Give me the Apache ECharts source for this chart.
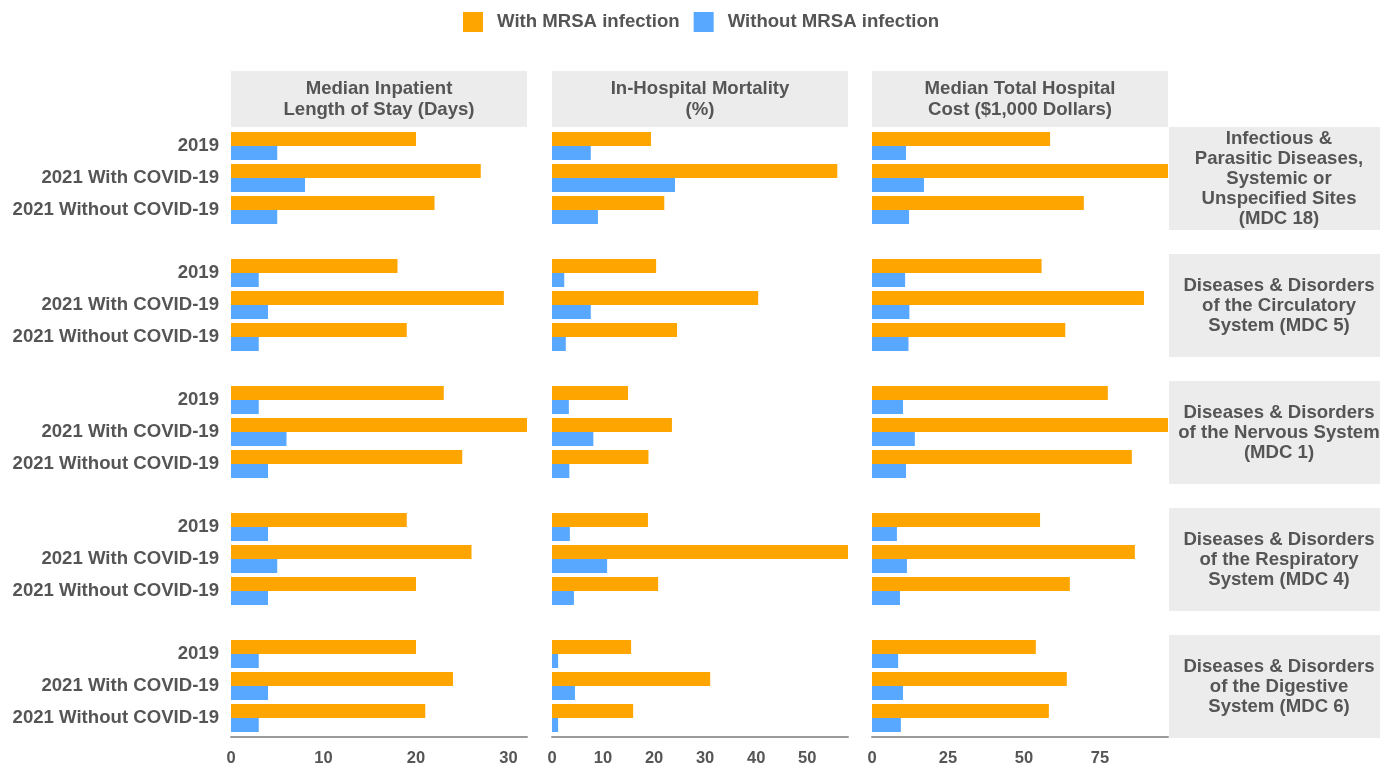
<!DOCTYPE html>
<html>
<head>
<meta charset="utf-8">
<script src="https://cdn.jsdelivr.net/npm/echarts@6/dist/echarts.min.js"></script>
<style>
  html, body { margin: 0; padding: 0; background: #fff; }
  #chart { width: 1380px; height: 767px; }
</style>
</head>
<body>
<div id="chart"></div>
<script>
// categories
const years = ['2019', '2021 With COVID-19', '2021 Without COVID-19']
const metrics = ['Median Inpatient\nLength of Stay (Days)', 'In-Hospital Mortality\n(%)', 'Median Total Hospital\nCost ($1,000 Dollars)']
const groups = [
  'Infectious &\nParasitic Diseases,\nSystemic or\nUnspecified Sites\n(MDC 18)',
  'Diseases & Disorders\nof the Circulatory\nSystem (MDC 5)',
  'Diseases & Disorders\nof the Nervous System\n(MDC 1)',
  'Diseases & Disorders\nof the Respiratory\nSystem (MDC 4)',
  'Diseases & Disorders\nof the Digestive\nSystem (MDC 6)'
]

// values per group (rows) -> per year
const losWith = [[20, 27, 22], [18, 29.5, 19], [23, 32, 25], [19, 26, 20], [20, 24, 21]]
const losWithout = [[5, 8, 5], [3, 4, 3], [3, 6, 4], [4, 5, 4], [3, 4, 3]]
const mortWith = [[19.4, 55.9, 22.0], [20.4, 40.4, 24.5], [14.9, 23.5, 18.9], [18.8, 58, 20.8], [15.5, 31, 15.9]]
const mortWithout = [[7.6, 24.1, 9.0], [2.4, 7.6, 2.7], [3.3, 8.1, 3.4], [3.5, 10.8, 4.3], [1.2, 4.5, 1.2]]
const costWith = [[58.6, 97.4, 69.7], [55.8, 89.5, 63.6], [77.6, 97.4, 85.5], [55.3, 86.5, 65.1], [53.9, 64.1, 58.2]]
const costWithout = [[11.2, 17.1, 12.2], [10.9, 12.3, 12.0], [10.2, 14.1, 11.2], [8.2, 11.5, 9.2], [8.6, 10.2, 9.5]]

// axis settings per metric column
const axisMax = [32, 58, 97.4]
const axisStep = [10, 10, 25]

const withData = [losWith, mortWith, costWith]
const withoutData = [losWithout, mortWithout, costWithout]

const ORANGE = '#FFA500'
const BLUE = '#58A8FF'
const TXT = '#555555'
const STRIP = '#ECECEC'
const FONT = '"Liberation Sans", Arial, sans-serif'
const FS = 18.6

const colLeft = [231, 552, 872]
const colW = 296
const rowTop = 130
const rowStep = 127
const rowH = 96

const grid = []
const xAxis = []
const yAxis = []
const series = []
const graphic = []

for (let r = 0; r < groups.length; r++) {
  for (let c = 0; c < metrics.length; c++) {
    const idx = grid.length
    const last = r === groups.length - 1
    grid.push({ left: colLeft[c], top: rowTop + r * rowStep, width: colW, height: rowH })
    xAxis.push({
      type: 'value', gridIndex: idx, min: 0, max: axisMax[c], interval: axisStep[c],
      offset: last ? 3 : 0,
      splitLine: { show: false },
      axisTick: { show: false },
      axisLine: { show: last, lineStyle: { color: '#9a9a9a', width: 2 } },
      axisLabel: {
        show: last, showMaxLabel: false, margin: 13,
        color: TXT, fontSize: 16.5, fontWeight: 'bold', fontFamily: FONT
      }
    })
    yAxis.push({
      type: 'category', gridIndex: idx, data: years, inverse: true,
      axisLine: { show: false },
      axisTick: { show: false },
      axisLabel: {
        show: c === 0, margin: 12,
        color: TXT, fontSize: FS, fontWeight: 'bold', fontFamily: FONT
      }
    })
    series.push({
      name: 'With MRSA infection', type: 'bar', xAxisIndex: idx, yAxisIndex: idx,
      data: withData[c][r], barWidth: 14, barGap: '0%',
      itemStyle: { color: ORANGE }
    })
    series.push({
      name: 'Without MRSA infection', type: 'bar', xAxisIndex: idx, yAxisIndex: idx,
      data: withoutData[c][r], barWidth: 14, barGap: '0%',
      itemStyle: { color: BLUE }
    })
  }
}

// column header strips
metrics.forEach((m, c) => {
  graphic.push({
    type: 'rect', shape: { x: colLeft[c], y: 71, width: colW, height: 56 },
    style: { fill: STRIP }, silent: true, z: -1
  })
  graphic.push({
    type: 'text', x: colLeft[c] + colW / 2, y: 99,
    style: {
      text: m, fill: TXT, font: 'bold ' + FS + 'px ' + FONT,
      align: 'center', verticalAlign: 'middle', lineHeight: 21
    }
  })
})

// row strips on the right
groups.forEach((g, r) => {
  const top = 127 + r * rowStep
  graphic.push({
    type: 'rect', shape: { x: 1169, y: top, width: 220, height: 103 },
    style: { fill: STRIP }, silent: true, z: -1
  })
  graphic.push({
    type: 'text', x: 1279, y: top + 51.5,
    style: {
      text: g, fill: TXT, font: 'bold ' + FS + 'px ' + FONT,
      align: 'center', verticalAlign: 'middle', lineHeight: 20
    }
  })
})

const option = {
  animation: false,
  backgroundColor: '#ffffff',
  legend: {
    data: ['With MRSA infection', 'Without MRSA infection'],
    left: 463, top: 12, padding: 0,
    icon: 'rect', itemWidth: 20, itemHeight: 20, itemGap: 14,
    textStyle: { color: TXT, fontSize: FS, fontWeight: 'bold', fontFamily: FONT, padding: [0, 0, 0, 9] }
  },
  grid, xAxis, yAxis, series, graphic
}

const chart = echarts.init(document.getElementById('chart'))
chart.setOption(option)
</script>
</body>
</html>
